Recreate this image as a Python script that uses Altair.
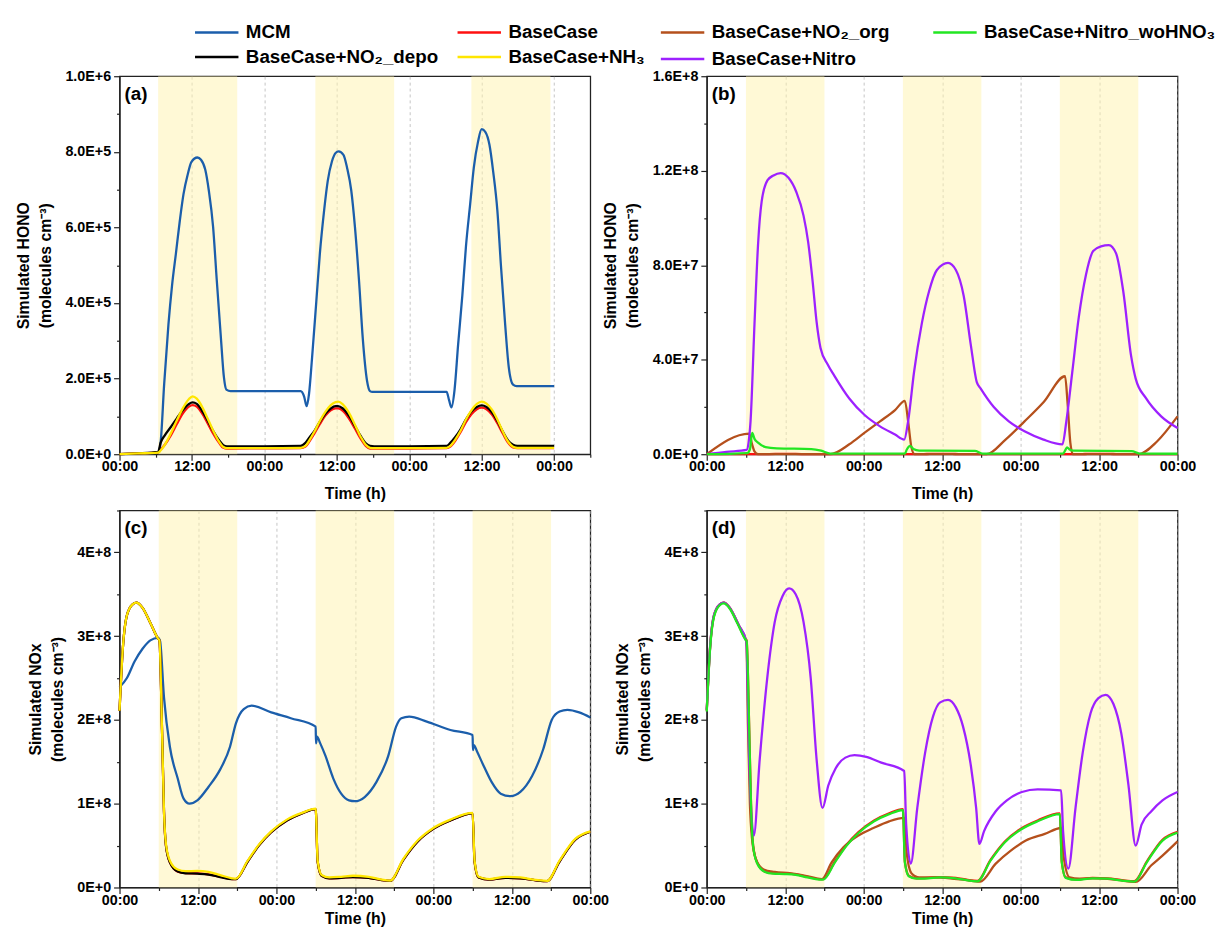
import altair as alt
import pandas as pd

FONT = "Liberation Sans"

# ---------------- panel (a): simulated HONO, MCM vs BaseCase variants ----------------
a_mcm_t = [0, 3, 6.4, 6.8, 7.4, 8.1, 8.7, 9.35, 10.0, 10.6, 11.3, 11.9, 12.9, 13.5, 14.2, 14.8, 15.5, 16.1, 16.8, 17.3,
           17.7, 18.4, 24, 30.0, 30.6, 31.0, 31.4, 31.9, 32.6, 33.2, 33.9, 34.5, 35.2, 35.8, 36.3, 37.1, 37.7, 38.4, 39.0, 39.7,
           40.3, 41.0, 41.5, 41.9, 48, 54.2, 54.6, 55.0, 55.5, 56.1, 56.8, 57.4, 58.1, 58.7, 59.4, 60.0, 60.6, 61.3, 61.9, 62.6,
           63.2, 63.9, 64.5, 65.2, 65.8, 72]
a_mcm_v = [0, 1.5e3, 4e3, 3.0e4, 1.86e5, 3.42e5, 4.46e5, 5.32e5, 6.19e5, 6.88e5, 7.40e5, 7.73e5, 7.85e5, 7.79e5, 7.53e5, 6.97e5, 6.02e5, 4.63e5, 3.07e5, 2.03e5,
           1.71e5, 1.67e5, 1.67e5, 1.67e5, 1.52e5, 1.27e5, 1.60e5, 2.55e5, 4.03e5, 5.32e5, 6.45e5, 7.23e5, 7.75e5, 7.97e5, 8.01e5, 7.92e5, 7.58e5, 6.97e5, 6.02e5, 4.55e5,
           3.07e5, 1.95e5, 1.67e5, 1.65e5, 1.65e5, 1.65e5, 1.43e5, 1.24e5, 1.69e5, 2.90e5, 4.20e5, 5.50e5, 6.62e5, 7.58e5, 8.27e5, 8.60e5, 8.53e5, 8.18e5, 7.49e5, 6.45e5,
           4.98e5, 3.42e5, 2.29e5, 1.84e5, 1.80e5, 1.80e5]

a_base_t = [0, 3, 6.4, 6.8, 7.5, 8.5, 9.5, 10.5, 11.5, 12.1, 12.8, 13.6, 14.5, 15.5, 16.5, 17.2, 17.8, 18.5, 24, 30,
            30.8, 31.5, 32.3, 33.2, 34.1, 35.0, 35.8, 36.2, 37.0, 38.0, 39.0, 40.0, 40.8, 41.5, 42.2, 48, 54.2, 54.8, 55.6, 56.5,
            57.4, 58.3, 59.2, 60.0, 60.8, 61.7, 62.6, 63.5, 64.4, 65.2, 65.9, 72]
a_base_v = [0, 2e3, 5e3, 1.2e4, 2.5e4, 5.0e4, 8.0e4, 1.08e5, 1.26e5, 1.30e5, 1.26e5, 1.10e5, 8.5e4, 5.5e4, 3.0e4, 1.7e4, 1.5e4, 1.5e4, 1.55e4, 1.6e4,
            2.0e4, 3.5e4, 5.5e4, 8.0e4, 1.02e5, 1.16e5, 1.21e5, 1.21e5, 1.15e5, 9.5e4, 6.8e4, 4.0e4, 2.2e4, 1.5e4, 1.5e4, 1.5e4, 1.6e4, 2.0e4, 3.5e4, 5.8e4,
            8.5e4, 1.06e5, 1.19e5, 1.23e5, 1.19e5, 1.05e5, 8.2e4, 5.5e4, 3.0e4, 1.8e4, 1.6e4, 1.6e4]
a_depo_v = [0, 2e3, 6e3, 3.0e4, 5.0e4, 7.2e4, 9.5e4, 1.17e5, 1.33e5, 1.37e5, 1.33e5, 1.17e5, 9.2e4, 6.2e4, 3.7e4, 2.4e4, 2.1e4, 2.1e4, 2.1e4, 2.2e4,
            3.0e4, 4.5e4, 6.2e4, 8.6e4, 1.07e5, 1.21e5, 1.27e5, 1.27e5, 1.21e5, 1.02e5, 7.5e4, 4.7e4, 2.9e4, 2.2e4, 2.1e4, 2.1e4, 2.2e4, 3.0e4, 4.5e4, 6.6e4,
            9.2e4, 1.13e5, 1.25e5, 1.29e5, 1.25e5, 1.11e5, 8.8e4, 6.0e4, 3.6e4, 2.5e4, 2.2e4, 2.2e4]
a_nh3_v = [0, 2e3, 4e3, 1.0e4, 2.5e4, 5.5e4, 9.0e4, 1.22e5, 1.46e5, 1.53e5, 1.47e5, 1.28e5, 9.8e4, 6.3e4, 3.3e4, 1.9e4, 1.6e4, 1.6e4, 1.6e4, 1.7e4,
           2.2e4, 3.8e4, 6.0e4, 8.8e4, 1.12e5, 1.30e5, 1.38e5, 1.39e5, 1.32e5, 1.10e5, 7.8e4, 4.5e4, 2.5e4, 1.7e4, 1.6e4, 1.6e4, 1.7e4, 2.2e4, 3.8e4, 6.2e4,
           9.2e4, 1.16e5, 1.33e5, 1.39e5, 1.34e5, 1.18e5, 9.2e4, 6.0e4, 3.3e4, 2.0e4, 1.7e4, 1.7e4]

# ---------------- panel (b): simulated HONO, extra-source cases ----------------
b_nitro_t = [0, 3, 6.1, 6.4, 6.7, 7.3, 7.85, 8.4, 9.3, 10.2, 11.3, 12.5, 13.7, 14.8, 15.5, 16.2, 16.8, 17.4, 18.5, 19.5,
             21.8, 24.1, 26.5, 28.8, 30.2, 30.8, 31.7, 32.9, 34.0, 35.2, 36.9, 38.1, 39.3, 40.4, 41.3, 41.9, 43.9, 46.2, 48.6, 51.5,
             54.4, 55.0, 55.9, 56.9, 58.0, 59.1, 60.3, 61.5, 62.6, 63.7, 64.9, 65.6, 67.2, 69.5, 72]
b_nitro_v = [0, 1.0e6, 1.8e6, 5.0e6, 1.4e7, 5.5e7, 8.9e7, 1.07e8, 1.16e8, 1.18e8, 1.19e8, 1.17e8, 1.11e8, 1.01e8, 9.0e7, 7.3e7, 5.6e7, 4.5e7, 3.8e7, 3.33e7,
             2.36e7, 1.67e7, 1.18e7, 8.3e6, 6.2e6, 1.4e7, 3.47e7, 5.55e7, 6.9e7, 7.8e7, 8.1e7, 7.8e7, 6.7e7, 4.6e7, 3.05e7, 2.78e7, 2.0e7, 1.39e7, 9.7e6, 6.2e6,
             4.2e6, 1.4e7, 3.47e7, 5.8e7, 7.6e7, 8.6e7, 8.8e7, 8.85e7, 8.5e7, 6.9e7, 4.16e7, 3.2e7, 2.36e7, 1.6e7, 1.11e7]

b_org_t = [0, 6.5, 6.9, 7.3, 7.85, 18.9, 21.8, 24.1, 26.5, 28.8, 30.3, 30.8, 31.3, 31.8, 42.8, 45.7, 48.6, 51.5, 54.8, 55.2,
           55.6, 56.0, 66.0, 68.9, 72]
b_org_v = [0, 8.7e6, 4.5e6, 1.2e6, 0, 0, 4.2e6, 9.0e6, 1.39e7, 1.87e7, 2.26e7, 1.39e7, 3.0e6, 0, 0, 6.2e6, 1.39e7, 2.2e7, 3.3e7, 2.1e7,
           5.0e6, 0, 0, 5.5e6, 1.6e7]

b_wo_t = [0, 6.2, 6.6, 6.95, 7.3, 7.85, 9.0, 10.7, 16.0, 17.5, 18.9, 24, 30.3, 30.6, 31.1, 31.6, 32.5, 41.0, 42.2, 54.5,
          54.8, 55.1, 55.5, 56.0, 65.0, 66.2, 72]
b_wo_v = [0, 5e5, 2.0e6, 9.0e6, 6.5e6, 4.9e6, 3.0e6, 2.5e6, 2.2e6, 1.5e6, 3e5, 3e5, 3e5, 2.0e6, 3.5e6, 2.2e6, 1.5e6, 1.4e6, 3e5, 3e5,
          1.5e6, 2.9e6, 2.0e6, 1.5e6, 1.3e6, 3e5, 2e5]

# ---------------- panel (c): simulated NOx, MCM vs BaseCase variants ----------------
c_mcm_t = [0, 1.13, 2.32, 3.52, 4.71, 5.9, 6.2, 6.8, 7.7, 8.9, 9.8, 10.7, 11.9, 13.6, 15.4, 16.9, 17.8, 19.0, 20.2, 23.2,
           26.2, 30.0, 30.05, 30.2, 30.7, 31.5, 32.7, 33.9, 35.1, 36.0, 37.5, 39.3, 41.1, 42.3, 43.1, 44.3, 47.0, 50.6, 54.0, 54.05,
           54.2, 54.7, 55.7, 56.9, 58.3, 59.8, 61.3, 63.1, 64.8, 66.1, 67.3, 68.5, 70.3, 72]
c_mcm_v = [2.39e8, 2.50e8, 2.70e8, 2.85e8, 2.95e8, 2.98e8, 2.94e8, 2.27e8, 1.68e8, 1.30e8, 1.06e8, 1.00e8, 1.04e8, 1.20e8, 1.41e8, 1.68e8, 1.96e8, 2.13e8, 2.17e8, 2.09e8,
           2.02e8, 1.92e8, 1.72e8, 1.80e8, 1.72e8, 1.57e8, 1.30e8, 1.12e8, 1.04e8, 1.03e8, 1.08e8, 1.26e8, 1.57e8, 1.92e8, 2.02e8, 2.04e8, 1.98e8, 1.88e8, 1.82e8, 1.64e8,
           1.70e8, 1.62e8, 1.45e8, 1.26e8, 1.12e8, 1.09e8, 1.14e8, 1.33e8, 1.65e8, 2.00e8, 2.10e8, 2.12e8, 2.09e8, 2.03e8]

c_base_t = [0, 0.5, 1.1, 2.0, 2.6, 3.5, 4.7, 5.9, 6.1, 6.5, 6.8, 7.1, 7.7, 8.9, 10.1, 11.9, 13.6, 15.4, 17.2, 17.8,
            19.6, 21.4, 23.2, 25.6, 27.9, 30.0, 30.3, 30.9, 32.1, 33.9, 35.7, 38.1, 39.9, 41.4, 43.4, 45.6, 48.0, 50.6, 54.0, 54.3,
            54.9, 56.6, 59.0, 61.3, 63.7, 65.4, 67.3, 69.7, 72]
c_base_v = [2.11e8, 2.85e8, 3.24e8, 3.38e8, 3.40e8, 3.34e8, 3.16e8, 2.97e8, 2.95e8, 1.88e8, 9.1e7, 5.0e7, 3.0e7, 1.9e7, 1.72e7, 1.68e7, 1.57e7, 1.27e7, 1.0e7, 1.0e7,
            3.1e7, 5.1e7, 6.6e7, 8.0e7, 8.85e7, 9.35e7, 3.1e7, 1.4e7, 1.1e7, 1.15e7, 1.25e7, 1.15e7, 9.0e6, 7.8e6, 3.3e7, 5.5e7, 7.0e7, 8.0e7, 8.85e7, 3.1e7,
            1.2e7, 9.5e6, 1.15e7, 1.1e7, 8.5e6, 7.5e6, 3.1e7, 5.7e7, 6.65e7]
c_depo_v = [2.11e8, 2.85e8, 3.24e8, 3.38e8, 3.40e8, 3.34e8, 3.16e8, 2.97e8, 2.95e8, 1.88e8, 9.1e7, 5.0e7, 3.0e7, 1.9e7, 1.7e7, 1.65e7, 1.55e7, 1.25e7, 1.0e7, 1.0e7,
            3.1e7, 5.1e7, 6.6e7, 8.0e7, 8.85e7, 9.35e7, 3.1e7, 1.4e7, 1.1e7, 1.15e7, 1.25e7, 1.15e7, 9.0e6, 7.8e6, 3.3e7, 5.5e7, 7.0e7, 8.0e7, 8.85e7, 3.1e7,
            1.2e7, 9.5e6, 1.15e7, 1.1e7, 8.5e6, 7.5e6, 3.1e7, 5.7e7, 6.65e7]
c_nh3_v = [2.11e8, 2.85e8, 3.24e8, 3.38e8, 3.40e8, 3.34e8, 3.16e8, 2.97e8, 2.95e8, 1.88e8, 9.1e7, 5.2e7, 3.2e7, 2.14e7, 1.95e7, 1.98e7, 1.87e7, 1.48e7, 1.1e7, 1.05e7,
           3.2e7, 5.2e7, 6.7e7, 8.1e7, 8.9e7, 9.4e7, 3.2e7, 1.48e7, 1.2e7, 1.28e7, 1.4e7, 1.28e7, 9.7e6, 8.2e6, 3.4e7, 5.6e7, 7.1e7, 8.1e7, 8.9e7, 3.2e7,
           1.28e7, 1.0e7, 1.28e7, 1.2e7, 9.0e6, 7.8e6, 3.2e7, 5.8e7, 6.7e7]

# ---------------- panel (d): simulated NOx, extra-source cases ----------------
d_wo_t = [0, 0.5, 1.1, 2.0, 2.6, 3.5, 4.7, 5.9, 6.1, 6.5, 6.8, 7.1, 7.7, 8.9, 10.1, 11.9, 13.6, 15.4, 17.2, 17.8,
          19.6, 21.4, 23.2, 25.6, 27.9, 30.0, 30.3, 30.9, 32.1, 33.9, 35.7, 38.1, 39.9, 41.4, 43.4, 45.6, 48.0, 50.6, 54.0, 54.3,
          54.9, 56.6, 59.0, 61.3, 63.7, 65.4, 67.3, 69.7, 72]
d_wo_v = [2.10e8, 2.84e8, 3.23e8, 3.37e8, 3.39e8, 3.33e8, 3.15e8, 2.96e8, 2.94e8, 1.87e8, 9.0e7, 4.9e7, 2.9e7, 1.85e7, 1.65e7, 1.6e7, 1.5e7, 1.2e7, 9.5e6, 9.5e6,
          3.0e7, 5.0e7, 6.5e7, 7.9e7, 8.75e7, 9.25e7, 3.0e7, 1.35e7, 1.05e7, 1.1e7, 1.2e7, 1.1e7, 8.5e6, 7.3e6, 3.2e7, 5.4e7, 6.9e7, 7.9e7, 8.75e7, 3.0e7,
          1.15e7, 9.0e6, 1.1e7, 1.05e7, 8.0e6, 7.0e6, 3.0e7, 5.6e7, 6.55e7]

d_org_t = [0, 0.5, 1.1, 2.0, 2.6, 3.4, 4.9, 6.05, 6.3, 6.6, 6.9, 7.5, 8.7, 10.4, 12.7, 15.1, 17.6, 19.1, 20.9, 23.2,
           25.5, 27.9, 30.2, 30.6, 31.3, 32.5, 34.8, 37.2, 39.5, 41.8, 44.2, 46.5, 48.8, 51.7, 54.2, 54.6, 55.5, 57.0, 59.9, 62.8,
           65.6, 68.0, 69.7, 72]
d_org_v = [2.12e8, 2.86e8, 3.25e8, 3.38e8, 3.40e8, 3.35e8, 3.13e8, 2.94e8, 1.95e8, 1.0e8, 6.0e7, 3.4e7, 2.15e7, 1.85e7, 1.7e7, 1.4e7, 1.0e7, 3.0e7, 4.8e7, 6.2e7,
           7.1e7, 7.9e7, 8.3e7, 4.0e7, 1.7e7, 1.2e7, 1.2e7, 1.1e7, 9.0e6, 7.0e6, 2.85e7, 4.4e7, 5.6e7, 6.4e7, 7.1e7, 3.6e7, 1.2e7, 1.05e7, 1.1e7, 9.0e6,
           6.6e6, 2.65e7, 3.8e7, 5.5e7]

d_nitro_t = [0, 0.5, 1.1, 2.0, 2.6, 3.4, 4.9, 6.05, 6.5, 7.0, 7.2, 8.1, 9.25, 10.4, 11.6, 12.6, 13.6, 14.8, 15.9, 16.8,
             17.7, 18.6, 19.7, 21.2, 22.6, 24.4, 26.7, 30.2, 30.5, 31.2, 32.2, 33.4, 34.6, 35.7, 36.9, 38.1, 39.2, 40.4, 41.2, 41.7,
             42.4, 44.2, 45.9, 48.2, 50.6, 54.2, 54.5, 55.3, 56.4, 57.5, 58.7, 59.9, 61.0, 62.2, 63.4, 64.5, 65.6, 66.5, 68.0, 69.7,
             72]
d_nitro_v = [2.12e8, 2.86e8, 3.25e8, 3.38e8, 3.40e8, 3.35e8, 3.13e8, 2.94e8, 1.5e8, 7.0e7, 6.2e7, 1.53e8, 2.5e8, 3.17e8, 3.48e8, 3.57e8, 3.50e8, 3.17e8, 2.5e8, 1.53e8,
             9.5e7, 1.22e8, 1.42e8, 1.55e8, 1.58e8, 1.56e8, 1.49e8, 1.39e8, 7.5e7, 2.85e7, 9.5e7, 1.61e8, 2.04e8, 2.21e8, 2.24e8, 2.15e8, 1.92e8, 1.45e8, 9.5e7, 5.2e7,
             6.7e7, 9.1e7, 1.04e8, 1.14e8, 1.17e8, 1.16e8, 6.7e7, 2.26e7, 9.5e7, 1.61e8, 2.08e8, 2.26e8, 2.30e8, 2.19e8, 1.84e8, 1.22e8, 5.0e7, 7.5e7, 9.1e7, 1.04e8,
             1.14e8]

# daytime shading (h)
a_day_start = [6.4, 32.45, 58.3]
a_day_end = [19.5, 45.5, 71.4]
day_start = [6, 30, 54]
day_end = [18, 42, 66]

# legend order (entries fill the two legend columns top to bottom)
names_a = ["MCM", "BaseCase+NO₂_depo", "BaseCase", "BaseCase+NH₃"]
colors_a = ["#1B5EAB", "#000000", "#FF1010", "#FFE600"]
names_b = ["BaseCase+NO₂_org", "BaseCase+Nitro", "BaseCase+Nitro_woHNO₃"]
colors_b = ["#B5501C", "#9D21FF", "#22E622"]
RED = "#FF1010"

LW = 2.3


def x_axis(tmax, title_pad):
    vals = [6 * i for i in range(int(tmax // 6) + 1)]
    return alt.Axis(
        values=vals,
        labelExpr="datum.value % 24 == 0 ? '00:00' : (datum.value % 12 == 0 ? '12:00' : '')",
        tickSize={"condition": {"test": "datum.value % 12 == 0", "value": 6}, "value": 3},
        grid=True,
        gridColor="#b5b5b5",
        gridDash=[3, 3],
        gridWidth=0.8,
        gridOpacity={"condition": {"test": "datum.value % 12 == 0 && datum.value > 0 && datum.value < 72.5", "value": 1}, "value": 0},
        labelFlush=False,
        labelOverlap=False,
        labelPadding=0,
        title="Time (h)",
        titlePadding=title_pad,
    )


def y_axis(vals, major, decimals, title):
    fmt = ".1f" if decimals else ".0f"
    zero = "0.0E+0" if decimals else "0E+0"
    expr = (
        f"datum.value % {major} == 0 ? (datum.value == 0 ? '{zero}' : "
        f"format(datum.value / pow(10, floor(log(datum.value) / LN10 + 1e-6)), '{fmt}') + 'E+' + "
        f"floor(log(datum.value) / LN10 + 1e-6)) : ''"
    )
    return alt.Axis(
        values=vals,
        labelExpr=expr,
        tickSize={"condition": {"test": f"datum.value % {major} == 0", "value": 6}, "value": 3},
        grid=False,
        labelFlush=False,
        labelOverlap=False,
        labelPadding=3,
        title=title,
        titleLineHeight=22,
        titlePadding=12,
    )


def make_panel(label, xmax, xaxis, yaxis, ymax, shade_s, shade_e, series, legend_names, legend_colors, legend, w, h):
    xs = alt.Scale(domain=[0, xmax], nice=False, zero=False)
    ys = alt.Scale(domain=[0, ymax], nice=False)
    cs = alt.Scale(domain=legend_names, range=legend_colors)
    shade_df = pd.DataFrame({"s": shade_s, "e": shade_e})
    layers = [
        alt.Chart(shade_df).mark_rect(color="#FFF3AD", opacity=0.5).encode(
            x=alt.X("s:Q", scale=xs, axis=xaxis), x2="e:Q")
    ]
    for t, v, name, col in series:
        if name is not None:
            df = pd.DataFrame({"t": t, "v": v, "series": [name] * len(t)})
            color = alt.Color("series:N", scale=cs, legend=legend)
        else:
            df = pd.DataFrame({"t": t, "v": v})
            color = alt.value(col)
        layers.append(
            alt.Chart(df).mark_line(strokeWidth=LW, interpolate="monotone").encode(
                x=alt.X("t:Q", scale=xs, axis=xaxis),
                y=alt.Y("v:Q", scale=ys, axis=yaxis),
                color=color,
            )
        )
    lab = alt.Chart(pd.DataFrame({"lab": [label]})).mark_text(
        align="left", baseline="middle", fontSize=19, fontWeight="bold", font=FONT, color="black"
    ).encode(text="lab:N", x=alt.value(5), y=alt.value(18))
    layers.append(lab)
    return alt.layer(*layers).properties(width=w, height=h)


hono_title = ["Simulated HONO", "(molecules cm⁻³)"]
nox_title = ["Simulated NOx", "(molecules cm⁻³)"]

LINE_SYMBOL = "M-2,0H2"
legA = alt.Legend(orient="none", legendX=86, legendY=-57, columns=2, columnPadding=14, rowPadding=2,
                  title=None, symbolType=LINE_SYMBOL, symbolSize=484, symbolStrokeWidth=2.5,
                  labelFontSize=19, labelFont=FONT, labelFontWeight="bold", labelColor="black",
                  labelOffset=17, labelLimit=400, padding=0)
legB = alt.Legend(orient="none", legendX=-37, legendY=-57, columns=2, columnPadding=38, rowPadding=4,
                  title=None, symbolType=LINE_SYMBOL, symbolSize=484, symbolStrokeWidth=2.5,
                  labelFontSize=19, labelFont=FONT, labelFontWeight="bold", labelColor="black",
                  labelOffset=17, labelLimit=400, padding=0)

pa = make_panel(
    "(a)", 78, x_axis(78, 12),
    y_axis([i * 100000 for i in range(11)], 200000, True, hono_title), 1e6,
    a_day_start, a_day_end,
    [(a_mcm_t, a_mcm_v, "MCM", None),
     (a_base_t, a_base_v, "BaseCase", None),
     (a_base_t, a_depo_v, "BaseCase+NO₂_depo", None),
     (a_base_t, a_nh3_v, "BaseCase+NH₃", None)],
    names_a, colors_a, legA, 477, 383)

pb = make_panel(
    "(b)", 72, x_axis(72, 12),
    y_axis([i * 20000000 for i in range(9)], 40000000, True, hono_title), 1.6e8,
    day_start, day_end,
    [(a_base_t, a_base_v, None, RED),
     (b_org_t, b_org_v, "BaseCase+NO₂_org", None),
     (b_nitro_t, b_nitro_v, "BaseCase+Nitro", None),
     (b_wo_t, b_wo_v, "BaseCase+Nitro_woHNO₃", None)],
    names_b, colors_b, legB, 477, 383)

pc = make_panel(
    "(c)", 72, x_axis(72, 4),
    y_axis([i * 50000000 for i in range(10)], 100000000, False, nox_title), 4.5e8,
    day_start, day_end,
    [(c_mcm_t, c_mcm_v, "MCM", None),
     (c_base_t, c_base_v, "BaseCase", None),
     (c_base_t, c_depo_v, "BaseCase+NO₂_depo", None),
     (c_base_t, c_nh3_v, "BaseCase+NH₃", None)],
    names_a, colors_a, None, 477, 382)

pd_ = make_panel(
    "(d)", 72, x_axis(72, 4),
    y_axis([i * 50000000 for i in range(10)], 100000000, False, nox_title), 4.5e8,
    day_start, day_end,
    [(c_base_t, c_base_v, None, RED),
     (d_org_t, d_org_v, "BaseCase+NO₂_org", None),
     (d_nitro_t, d_nitro_v, "BaseCase+Nitro", None),
     (d_wo_t, d_wo_v, "BaseCase+Nitro_woHNO₃", None)],
    names_b, colors_b, None, 477, 382)

chart = alt.concat(
    pa, pb, pc, pd_, columns=2, spacing={"row": 57, "column": 118}, bounds="flush"
).resolve_scale(
    color="independent"
).properties(
    padding={"left": 6, "top": 5, "right": 0, "bottom": 0},
    background="white",
).configure_view(
    stroke="#222", strokeWidth=1.3
).configure_axis(
    labelFont=FONT, labelFontSize=14.5, labelFontWeight="bold", labelColor="black",
    titleFont=FONT, titleFontSize=16, titleFontWeight="bold", titleColor="black",
    domainColor="#222", domainWidth=1.3, tickColor="#222", tickWidth=1.2,
)

chart.save("out.html", embed_options={"renderer": "svg", "actions": False})
